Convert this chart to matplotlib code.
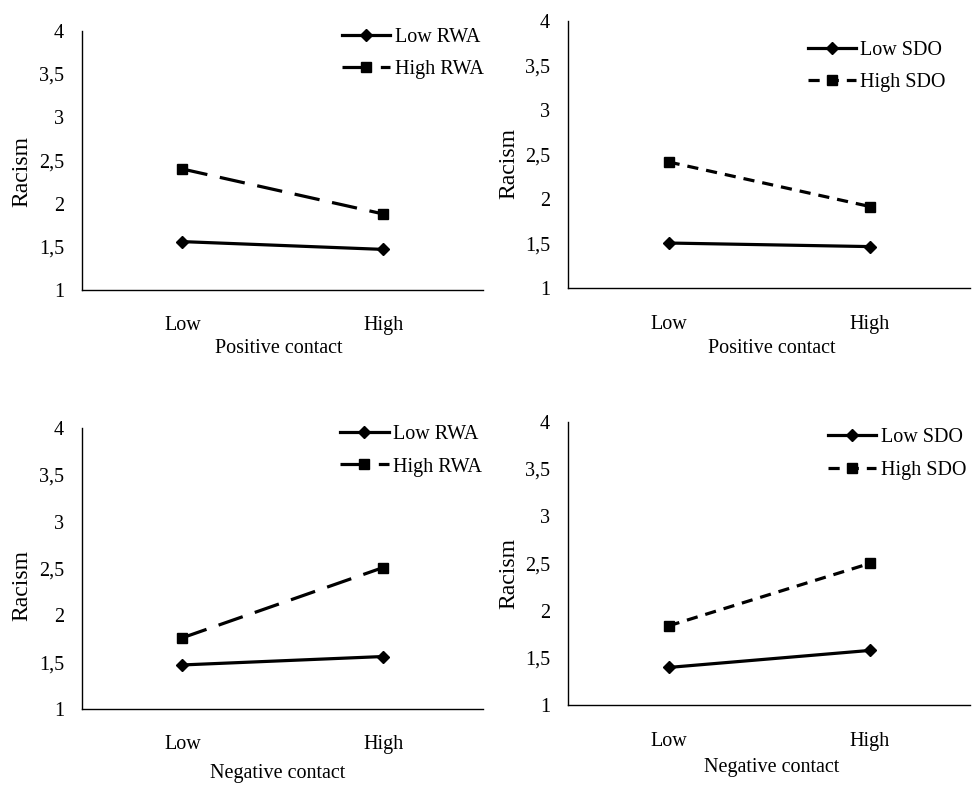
import matplotlib
matplotlib.use("Agg")
import matplotlib.pyplot as plt
from matplotlib.ticker import FuncFormatter

plt.rcParams["font.family"] = ["Liberation Serif", "DejaVu Serif"]
plt.rcParams["font.size"] = 14.5

# values
levels = ["Low", "High"]
yticks = [1, 1.5, 2, 2.5, 3, 3.5, 4]

pos_low_rwa = [1.56, 1.47]
pos_high_rwa = [2.40, 1.88]
pos_low_sdo = [1.51, 1.47]
pos_high_sdo = [2.42, 1.92]
neg_low_rwa = [1.47, 1.56]
neg_high_rwa = [1.76, 2.51]
neg_low_sdo = [1.40, 1.58]
neg_high_sdo = [1.84, 2.50]

panels = [
    # axes rect, low, high, moderator, xlabel, dash, legend anchor, ylabel pos, xlabel pos
    ([0.0844, 0.631, 0.413, 0.330], pos_low_rwa, pos_high_rwa, "RWA", "Positive contact",
     (8, 4), (0.352, 0.965), (-0.15, 0.456), (0.491, -0.224)),
    ([0.5844, 0.633, 0.414, 0.340], pos_low_sdo, pos_high_sdo, "SDO", "Positive contact",
     (3.5, 2.5), (0.831, 0.948), (-0.146, 0.466), (0.507, -0.224)),
    ([0.0844, 0.098, 0.413, 0.3575], neg_low_rwa, neg_high_rwa, "RWA", "Negative contact",
     (8, 4), (0.350, 0.459), (-0.15, 0.44), (0.4875, -0.228)),
    ([0.5844, 0.1027, 0.414, 0.361], neg_low_sdo, neg_high_sdo, "SDO", "Negative contact",
     (3.5, 2.5), (0.852, 0.455), (-0.146, 0.463), (0.507, -0.221)),
]

fig = plt.figure(figsize=(9.72, 7.86), dpi=100)
fmt = FuncFormatter(lambda v, _: f"{v:g}".replace(".", ","))

for rect, low, high, mod, xlab, dash, anchor, ylpos, xlpos in panels:
    ax = fig.add_axes(rect)
    x = [0.5, 1.5]
    ax.plot(x, low, color="black", lw=2.3, marker="D", ms=6, label=f"Low {mod}")
    ax.plot(x, high, color="black", lw=2.3, marker="s", ms=7.5, dashes=dash, label=f"High {mod}")
    ax.set_xlim(0, 2)
    ax.set_ylim(1, 4)
    ax.set_xticks(x)
    ax.set_xticklabels(levels)
    ax.set_yticks(yticks)
    ax.yaxis.set_major_formatter(fmt)
    ax.tick_params(length=0)
    ax.tick_params(axis="x", pad=19)
    ax.tick_params(axis="y", pad=13)
    ax.set_ylabel("Racism", fontsize=17)
    ax.yaxis.label.set_va("center")
    ax.yaxis.set_label_coords(*ylpos)
    ax.set_xlabel(xlab)
    ax.xaxis.label.set_va("center")
    ax.xaxis.set_label_coords(*xlpos)
    for s in ("top", "right"):
        ax.spines[s].set_visible(False)
    for s in ("left", "bottom"):
        ax.spines[s].set_linewidth(1.0)
    ax.legend(loc="upper left", bbox_to_anchor=anchor, bbox_transform=fig.transFigure,
              frameon=False, borderpad=0, borderaxespad=0, handlelength=2.4,
              handletextpad=0.2, labelspacing=0.65, fontsize=14.5)

fig.savefig("out.png", dpi=100)
